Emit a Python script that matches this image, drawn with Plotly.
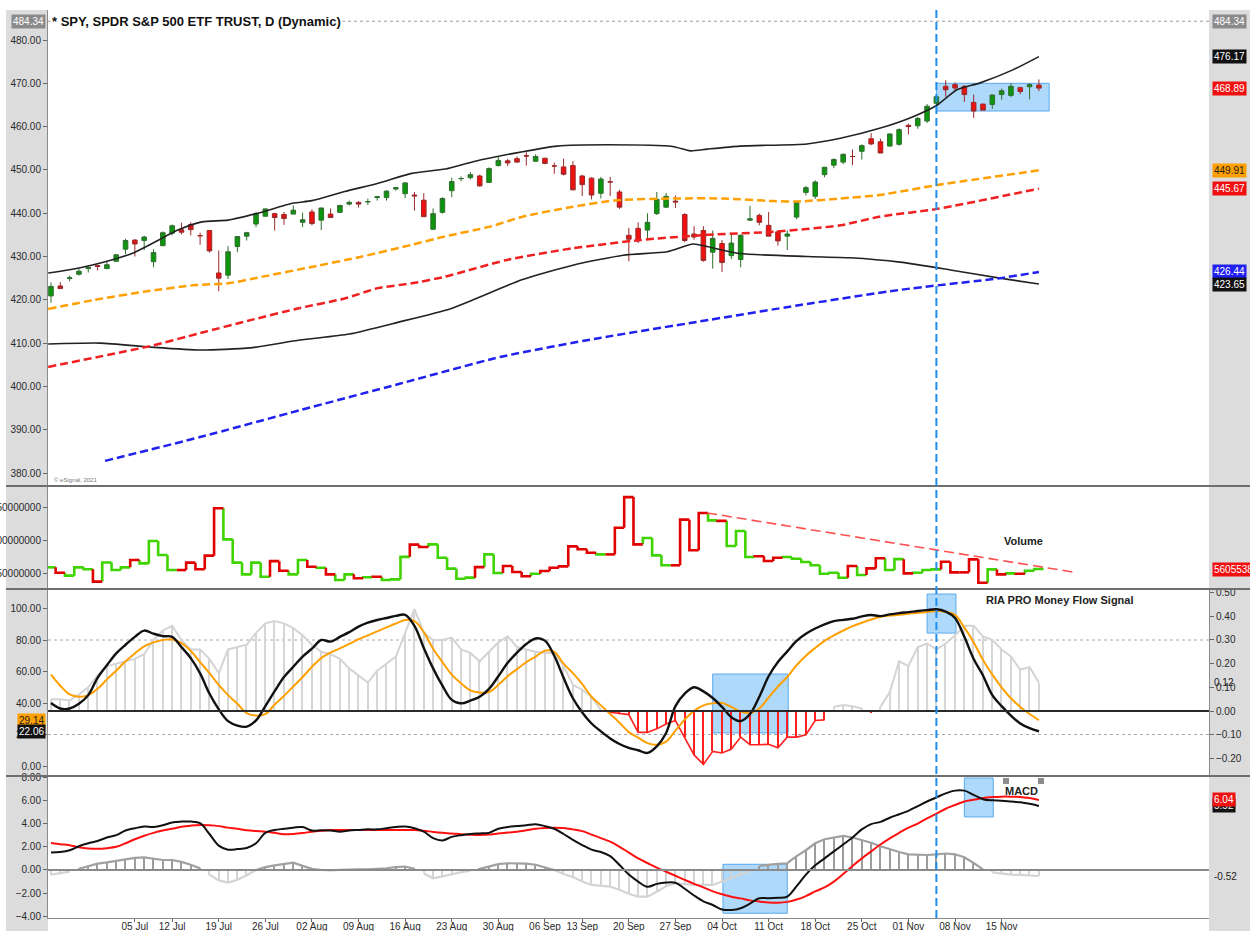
import pandas as pd
import plotly.graph_objects as go
from plotly.subplots import make_subplots

# ---------------- DATA ----------------
holidays = ["2021-07-05", "2021-09-06"]
dates = [d for d in pd.bdate_range("2021-06-22", "2021-11-19") if d.strftime("%Y-%m-%d") not in holidays]

open_ = [420.9,423.2,424.9,425.9,427.2,427.9,427.2,428.9,431.7,433.8,
         433.7,428.8,432.5,435.4,436.2,437.4,434.8,436.0,426.2,425.7,
         432.3,434.7,437.5,439.3,439.9,439.7,439.8,437.9,440.3,438.4,
         439.8,440.2,442.1,442.5,442.6,443.6,443.6,445.6,444.5,444.2,
         443.0,436.3,440.2,445.2,448.0,448.2,448.6,447.1,451.0,452.1,
         452.6,453.3,452.0,452.7,450.9,450.7,451.0,448.6,448.1,444.6,
         447.3,444.9,434.9,436.5,436.1,439.9,441.4,442.8,439.7,435.2,
         436.0,431.0,433.0,430.2,429.3,438.4,439.5,437.2,435.7,434.7,
         439.1,444.8,443.9,448.9,451.1,451.8,453.1,454.3,457.2,456.5,
         455.5,455.9,460.3,460.2,461.3,465.4,469.3,469.7,469.3,465.6,
         465.2,465.1,467.4,467.2,469.0,469.2,469.6]
high = [424.0,424.1,425.6,427.1,427.7,428.1,428.8,430.6,434.1,434.0,
        434.8,431.7,435.8,437.4,437.8,437.9,435.5,436.1,431.4,432.4,
        434.7,435.7,440.3,441.0,440.1,440.3,441.8,440.1,440.9,441.3,
        441.1,441.9,442.9,442.8,443.4,444.0,445.3,446.0,447.1,444.9,
        444.6,441.1,443.7,448.2,448.5,449.5,448.9,450.6,453.1,452.5,
        453.1,454.1,453.6,452.8,451.7,452.6,452.0,448.9,448.3,448.4,
        448.4,445.4,436.6,437.9,440.0,444.9,444.7,444.1,440.0,437.0,
        437.0,436.0,433.8,435.5,435.1,441.7,439.9,440.3,436.1,436.0,
        442.7,446.3,447.6,450.7,452.7,453.8,454.7,455.9,458.5,457.2,
        458.4,459.6,460.7,462.2,465.2,467.0,470.7,470.2,469.6,467.4,
        465.3,467.4,468.8,470.0,469.2,470.0,470.9]
low = [419.3,422.5,424.3,425.6,426.3,426.8,427.2,428.8,430.5,430.0,
       431.5,427.5,432.4,434.9,435.1,434.9,432.7,430.9,422.0,424.8,
       431.0,433.7,436.8,439.3,436.0,437.3,439.8,436.8,437.2,436.1,
       438.9,440.1,441.8,441.3,441.9,442.9,442.9,445.2,443.5,440.6,
       439.2,436.1,439.9,443.7,447.4,447.8,446.2,447.1,450.8,450.9,
       451.7,451.0,451.9,451.3,449.1,448.7,445.3,444.0,443.2,443.4,
       444.0,441.0,428.9,433.1,433.8,439.6,441.2,441.2,433.3,433.9,
       428.8,427.2,426.4,429.4,427.5,438.2,437.2,434.7,432.5,431.5,
       438.6,444.1,443.3,448.3,450.4,451.3,451.1,452.4,455.7,453.9,
       455.4,455.6,458.2,459.5,460.8,465.0,466.9,468.2,465.7,462.0,
       463.8,464.1,466.2,466.8,467.5,466.3,468.2]
close = [423.1,422.6,425.1,426.6,427.5,427.7,428.1,430.4,433.7,432.9,
         434.5,430.9,435.5,437.1,435.6,436.2,434.8,431.3,425.0,431.1,
         434.6,435.5,439.9,441.0,439.0,438.8,440.7,438.5,437.6,441.2,
         439.0,441.8,442.5,442.1,442.7,443.8,445.1,445.9,447.0,444.0,
         439.2,439.9,443.4,447.3,448.0,448.9,446.3,450.3,452.2,451.6,
         451.8,453.2,453.1,451.5,450.9,449.0,445.4,446.6,444.2,447.9,
         447.2,441.4,434.0,433.6,437.9,443.2,443.9,442.6,433.7,434.5,
         429.1,434.2,428.6,433.1,434.9,438.7,437.9,434.7,433.6,435.2,
         442.5,445.9,447.2,450.6,452.4,453.6,453.1,455.6,456.0,453.9,
         458.3,459.3,460.0,461.9,464.7,466.9,468.5,468.9,467.4,463.6,
         463.8,467.3,468.3,469.3,468.1,469.7,468.89]

# overlay lines (trading-day index, value)
bb_upper_x = [-0.3,2.9,6.5,8.7,11.2,13.6,16.2,19,22.2,25.9,28,31.5,35.1,38.7,42.3,45.3,50.6,54.3,59.7,66.7,68.6,70.4,73.9,81.1,84.7,88.9,92.5,95.1,97.2,99.7,103.2,106]
bb_upper = [426.2,427.3,429.2,430.7,433.4,436.1,438.0,438.4,440.0,442.3,442.9,445.0,446.9,449.2,450.2,451.9,454.2,455.5,455.8,455.4,454.4,454.8,455.5,456.0,457.3,459.6,462.3,465.0,468.5,470.1,473.1,476.17]
bb_lower_x = [-0.3,5.3,10.6,16,21.4,26.7,32,37.4,42.8,45.3,50.6,56,61.4,66.1,68.9,70.4,73.9,81.1,85.7,91.1,96.5,101.8,106]
bb_lower = [409.8,410.0,409.1,408.4,408.9,410.7,412.1,414.9,417.9,420.0,424.7,428.0,430.3,431.1,432.9,432.3,430.7,430.0,429.7,428.7,426.9,425.0,423.65]
ma50_x = [-0.3,4.7,10.1,15.5,19,22.6,28,33.4,38.7,42.2,47.1,50.6,56,60.7,66.7,72.1,77.5,80.1,84.7,88.9,95.1,106]
ma50 = [417.9,420.0,421.9,423.4,423.8,425.3,427.6,430.0,432.7,434.6,436.9,439.2,441.5,443.0,443.4,443.4,442.8,442.7,443.4,444.2,446.5,449.91]
ma100_x = [-0.3,10.6,16,21.4,26.7,31.5,35.1,38.7,42.2,48.9,56,63.2,70.4,77.5,84.7,88.9,95.1,106]
ma100 = [404.5,409.3,412.3,415.3,418.1,420.3,422.7,423.8,425.3,429.2,431.9,433.8,435.0,435.7,437.2,439.2,441.0,445.67]
ma200_x = [5.8,16,26.7,37.4,48.2,58.9,69.6,80.4,91.1,101.8,106]
ma200 = [382.8,388.3,394.5,400.6,406.8,411.2,415.0,418.8,422.3,425.0,426.44]
top_price = 484.34

# volume (millions) and up/down flag
volume_m = [58.6,50.5,46,58.6,55.6,37,66,54.5,58.6,69.7,
            64.6,98.5,77.3,54.5,54.5,65.7,55.6,76.3,148,101,
            65.7,48,65.7,44.4,68,53.5,48,69.7,59.6,58,
            48,39.4,48,42,43.5,44.4,39.4,40.4,74.5,93,
            89.4,93.4,73.2,56.6,41.4,43,59,78.2,50,60.6,
            51.5,45,49,53,58,60,90.4,86,80.8,78.2,
            78.2,118.6,165,93.4,103,76.8,61.7,61.7,130.8,84.4,
            141,129.8,129,91,113.6,74.2,75.5,68.2,73.2,74.2,
            71.7,66.7,61.7,49,50.5,42.9,60.6,47,57,72.3,
            54.5,71,49.5,50.5,54.5,55.5,67,51,51,70.7,
            35.3,55.5,48,49.5,48.8,53.5,56.055388]
vol_up = [1,0,1,1,1,0,1,1,1,0,
          1,1,1,1,0,0,0,0,0,1,
          1,1,1,1,0,0,1,1,0,1,
          0,1,1,0,1,0,1,1,1,0,
          0,1,1,1,1,1,0,1,1,0,
          0,0,1,0,0,0,0,0,0,1,
          0,0,0,0,1,1,1,0,0,0,
          0,1,0,1,1,1,0,0,0,1,
          1,1,1,1,1,1,0,1,0,0,
          1,1,0,1,1,1,0,0,0,0,
          0,1,0,1,0,1,1]
vol_trend_x = [70.4, 110.1]
vol_trend_m = [141.0, 50.5]

# RIA PRO money flow signal
mf_line = [40,36.5,36.5,39.5,45,56,64,71.5,77,82,
           86,84,82.5,82,75.5,68.5,58.8,46,36,28.5,
           25.7,25,29,38,47.5,56.5,63,69.5,74.5,80,
           79,82,85,88.5,91,92.7,94,95.3,96,89,
           75,62,51,42,39.8,41.5,44,49,57,65.5,
           72,77.5,81,79.6,70,56,43,34,27,22,
           17.5,14,11.5,10,8.3,12.5,21,38,46,50,
           47.4,43.2,37.5,31,28.5,33,44,57,66,72.8,
           79.5,84,87.3,90,92,92.8,93.5,95,95.9,95.2,
           96.3,97.1,97.7,98.4,99,99.5,98,94,82,68,
           57.5,45,38,32,27,24,22.06]
mf_signal = [58,51,45.5,44,45,49,55,60.5,66.5,71.5,
             76,78.5,80,80.4,78,73,66,59,51.5,45,
             39.5,33.5,32,33,39,44.5,50.5,56.5,63,68.5,
             72,74.7,77.5,80.5,83,85.5,88,90.5,92.7,92,
             85,74.5,66,58,52.5,48,46.6,47,51.5,57,
             61.5,66,69.5,73.2,72.5,65,59,52,44,38.5,
             33,27.5,21.5,18,14.5,13.5,15.5,22.5,29.5,35,
             38.5,39.8,40,37.5,34.5,33.5,36.5,43.5,50.5,56.5,
             64,70,75,79.5,83,86,88.8,91,93,94.8,
             95.5,96,96.6,97.3,97.8,98.5,98,96,88,78.5,
             67.3,58,50,43,37.5,33,29.14]
mf_hist = [0.05,0.05,0.045,0.07,0.10,0.15,0.19,0.20,0.21,0.22,
           0.24,0.30,0.34,0.36,0.30,0.26,0.26,0.22,0.16,0.26,
           0.27,0.28,0.33,0.37,0.38,0.37,0.35,0.32,0.28,0.25,
           0.24,0.22,0.18,0.15,0.12,0.17,0.20,0.23,0.33,0.43,
           0.33,0.30,0.30,0.31,0.26,0.245,0.21,0.25,0.29,0.315,
           0.27,0.26,0.25,0.245,0.245,0.19,0.11,0.09,0.06,0.005,
           -0.005,-0.01,-0.015,-0.09,-0.09,-0.075,-0.055,-0.04,-0.11,-0.185,
           -0.225,-0.17,-0.177,-0.16,-0.11,-0.142,-0.142,-0.14,-0.155,-0.11,
           -0.11,-0.10,-0.04,-0.037,0.018,0.025,0.02,0.011,-0.004,0.018,
           0.08,0.21,0.19,0.27,0.285,0.26,0.285,0.32,0.36,0.36,
           0.315,0.30,0.26,0.23,0.175,0.185,0.12]

# MACD
macd_line = [1.5,1.55,1.7,2.05,2.3,2.5,2.8,3.0,3.4,3.6,
             3.74,3.7,3.85,4.1,4.17,4.17,4.03,3.1,2.1,1.75,
             1.8,1.9,2.3,3.2,3.45,3.55,3.65,3.7,3.4,3.42,
             3.4,3.3,3.4,3.45,3.5,3.5,3.6,3.7,3.75,3.6,
             3.3,2.75,2.55,2.85,3.0,3.1,3.15,3.2,3.55,3.7,
             3.78,3.85,3.94,3.78,3.55,3.1,2.6,2.15,1.75,1.55,
             1.2,0.43,-0.4,-1.0,-1.45,-1.2,-1.08,-1.1,-1.62,-2.2,
             -2.7,-3.02,-3.4,-3.45,-3.3,-2.9,-2.44,-2.44,-2.4,-2.3,
             -1.4,-0.4,0.4,1.0,1.6,2.2,2.8,3.5,3.95,4.15,
             4.5,4.8,5.1,5.5,5.9,6.25,6.6,6.84,6.84,6.47,
             6.1,6.0,5.97,5.9,5.83,5.7,5.52]
macd_signal = [2.32,2.22,2.13,1.95,1.85,1.82,1.88,2.0,2.3,2.65,
               2.95,3.2,3.4,3.55,3.72,3.82,3.88,3.85,3.78,3.65,
               3.55,3.42,3.35,3.3,3.2,3.08,3.1,3.18,3.3,3.38,
               3.44,3.45,3.45,3.45,3.45,3.45,3.45,3.45,3.45,3.45,
               3.38,3.28,3.2,3.15,3.08,3.04,3.02,3.05,3.15,3.22,
               3.3,3.42,3.55,3.62,3.65,3.62,3.5,3.35,3.05,2.75,
               2.44,2.0,1.5,1.0,0.6,0.2,-0.15,-0.5,-0.85,-1.2,
               -1.5,-1.85,-2.1,-2.3,-2.45,-2.62,-2.72,-2.8,-2.82,-2.75,
               -2.55,-2.25,-1.85,-1.5,-1.0,-0.35,0.35,1.0,1.6,2.2,
               2.73,3.2,3.65,4.0,4.45,4.85,5.28,5.6,5.9,6.05,
               6.2,6.28,6.32,6.32,6.3,6.2,6.04]
macd_hist = [-0.4,-0.3,-0.15,0.1,0.35,0.55,0.65,0.8,0.95,1.05,
             1.09,0.95,0.86,0.86,0.7,0.45,0.14,-0.4,-0.9,-1.09,
             -0.85,-0.45,0.0,0.25,0.4,0.5,0.63,0.35,0.1,0.0,
             -0.05,0.0,0.05,0.06,0.06,0.1,0.15,0.25,0.3,0.1,
             -0.3,-0.72,-0.55,-0.35,-0.2,-0.05,0.1,0.3,0.5,0.58,
             0.58,0.55,0.45,0.25,0.0,-0.35,-0.6,-1.0,-1.29,-1.35,
             -1.44,-1.7,-2.05,-2.3,-2.3,-1.87,-1.4,-1.15,-1.22,-1.29,
             -1.29,-1.29,-1.0,-0.7,-0.45,-0.1,0.35,0.45,0.52,0.58,
             1.2,1.7,2.3,2.65,2.8,2.93,2.8,2.6,2.35,2.05,
             1.78,1.55,1.35,1.29,1.29,1.35,1.42,1.35,1.1,0.6,
             0.05,-0.2,-0.3,-0.4,-0.43,-0.45,-0.52]

# annotation boxes: (x0, x1, y0, y1) in axis units
price_box = (95.0, 107.1, 463.6, 470.0)
mf_box_1 = (94.0, 97.1, 84.4, 109.2)
mf_box_2 = (71.0, 79.1, 21.0, 58.4)
macd_box_1 = (72.1, 79.0, -3.73, 0.49)
macd_box_2 = (98.0, 101.1, 4.57, 7.93)
marker_day = "2021-11-04"

week_labels = ["05 Jul","12 Jul","19 Jul","26 Jul","02 Aug","09 Aug","16 Aug","23 Aug","30 Aug",
               "06 Sep","13 Sep","20 Sep","27 Sep","04 Oct","11 Oct","18 Oct","25 Oct","01 Nov",
               "08 Nov","15 Nov"]

# ---------------- FIGURE ----------------
n = len(dates)
xi = list(range(n))
week_starts = pd.date_range("2021-07-05", periods=len(week_labels), freq="7D")
tickvals = [next(i for i, d in enumerate(dates) if d >= ws) for ws in week_starts]
marker_x = next(i for i, d in enumerate(dates) if d.strftime("%Y-%m-%d") == marker_day)

W_PX, H_PX = 1161, 908
def px_x(p):
    return (p - 48) / W_PX
def px_y(p):
    return (918 - p) / H_PX

fig = make_subplots(rows=4, cols=1, shared_xaxes=True, vertical_spacing=0,
                    row_heights=[476, 103, 187, 142],
                    specs=[[{"secondary_y": True}]] * 4)

# price
fig.add_trace(go.Candlestick(x=xi, open=open_, high=high, low=low, close=close,
                             increasing=dict(fillcolor="#0c960c", line=dict(color="#2f6f2f", width=1)),
                             decreasing=dict(fillcolor="#f01010", line=dict(color="#9a2a2a", width=1)),
                             whiskerwidth=0, hoverinfo="skip"), row=1, col=1)
fig.add_trace(go.Scatter(x=bb_upper_x, y=bb_upper, mode="lines", line=dict(color="#222", width=1.6, shape="spline", smoothing=0.6)), row=1, col=1)
fig.add_trace(go.Scatter(x=bb_lower_x, y=bb_lower, mode="lines", line=dict(color="#222", width=1.6, shape="spline", smoothing=0.6)), row=1, col=1)
fig.add_trace(go.Scatter(x=ma50_x, y=ma50, mode="lines", line=dict(color="#ffa000", width=2.5, dash="8px,4px", shape="spline", smoothing=0.6)), row=1, col=1)
fig.add_trace(go.Scatter(x=ma100_x, y=ma100, mode="lines", line=dict(color="#f02020", width=2.5, dash="8px,4px", shape="spline", smoothing=0.6)), row=1, col=1)
fig.add_trace(go.Scatter(x=ma200_x, y=ma200, mode="lines", line=dict(color="#2020f0", width=2.5, dash="8px,4px", shape="spline", smoothing=0.6)), row=1, col=1)

# volume step line
vols = [v * 1e6 for v in volume_m]
seg = {1: ([], []), 0: ([], [])}
for i in xi:
    prev = vols[i - 1] if i > 0 else vols[i]
    xs, ys = seg[vol_up[i]]
    xs += [i - 0.5, i - 0.5, i + 0.5, None]
    ys += [prev, vols[i], vols[i], None]
fig.add_trace(go.Scatter(x=seg[1][0], y=seg[1][1], mode="lines", line=dict(color="#3fd400", width=2.6)), row=2, col=1)
fig.add_trace(go.Scatter(x=seg[0][0], y=seg[0][1], mode="lines", line=dict(color="#e00000", width=2.6)), row=2, col=1)
fig.add_trace(go.Scatter(x=vol_trend_x, y=[v * 1e6 for v in vol_trend_m], mode="lines",
                         line=dict(color="#ff5050", width=1.6, dash="10px,5px")), row=2, col=1)

# money flow: histogram on primary (placed right), lines on secondary (placed left)
mf_cols = ["#d6d6d6" if v >= 0 else "#ff2020" for v in mf_hist]
fig.add_trace(go.Bar(x=xi, y=mf_hist, width=0.16, marker=dict(color=mf_cols, line=dict(width=0))), row=3, col=1, secondary_y=False)
fig.add_trace(go.Scatter(x=xi, y=[v if v >= 0 else None for v in mf_hist], mode="lines",
                         line=dict(color="#d4d4d4", width=2)), row=3, col=1, secondary_y=False)
fig.add_trace(go.Scatter(x=xi, y=[v if v <= 0 else None for v in mf_hist], mode="lines",
                         line=dict(color="#ff2020", width=1.6)), row=3, col=1, secondary_y=False)
fig.add_trace(go.Scatter(x=xi, y=mf_signal, mode="lines", line=dict(color="#ffa000", width=2, shape="spline")), row=3, col=1, secondary_y=True)
fig.add_trace(go.Scatter(x=xi, y=mf_line, mode="lines", line=dict(color="#111", width=2.4, shape="spline")), row=3, col=1, secondary_y=True)

# MACD
mh_cols = ["#9c9c9c" if v >= 0 else "#d4d4d4" for v in macd_hist]
fig.add_trace(go.Bar(x=xi, y=macd_hist, width=0.16, marker=dict(color=mh_cols, line=dict(width=0))), row=4, col=1)
fig.add_trace(go.Scatter(x=xi, y=[v if v >= 0 else None for v in macd_hist], mode="lines",
                         line=dict(color="#a0a0a0", width=2.2)), row=4, col=1)
fig.add_trace(go.Scatter(x=xi, y=[v if v <= 0 else None for v in macd_hist], mode="lines",
                         line=dict(color="#d4d4d4", width=2.2)), row=4, col=1)
fig.add_trace(go.Scatter(x=xi, y=macd_signal, mode="lines", line=dict(color="#ff1010", width=2, shape="spline")), row=4, col=1)
fig.add_trace(go.Scatter(x=xi, y=macd_line, mode="lines", line=dict(color="#111", width=2, shape="spline")), row=4, col=1)

# ---------------- AXES ----------------
tickfont = dict(family="Liberation Sans, Arial", size=10, color="#2a2a2a")
ax_common = dict(showgrid=False, zeroline=False, ticks="outside", ticklen=4, tickcolor="#666",
                 tickfont=tickfont, showline=True, linecolor="#8a8a8a", linewidth=1, automargin=False)

price_ticks = list(range(380, 481, 10))
fig.update_layout(
    yaxis=dict(range=[377.0, 486.93], tickvals=price_ticks, tickformat=".2f", side="left", **ax_common),
    yaxis2=dict(range=[377.0, 486.93], tickvals=price_ticks, tickformat=".2f", side="right", overlaying="y", **ax_common),
    yaxis3=dict(range=[25.8e6, 181.8e6], tickvals=[50e6, 100e6, 150e6], tickformat="d", side="left", **ax_common),
    yaxis4=dict(range=[25.8e6, 181.8e6], tickvals=[50e6, 100e6, 150e6], tickformat="d", side="right", overlaying="y3", **ax_common),
    yaxis5=dict(range=[-0.274, 0.515], tickvals=[-0.2, -0.1, 0, 0.1, 0.2, 0.3, 0.4, 0.5], tickformat=".2f", side="right", **ax_common),
    yaxis6=dict(range=[-6.35, 112.4], tickvals=[0, 20, 40, 60, 80, 100], tickformat=".2f", side="left", overlaying="y5", **ax_common),
    yaxis7=dict(range=[-4.14, 8.1], tickvals=[-4, -2, 0, 2, 4, 6, 8], tickformat=".2f", side="left", **ax_common),
    yaxis8=dict(range=[-4.14, 8.1], tickvals=[-4, -2, 0, 2, 4, 6, 8], tickformat=".2f", side="right", overlaying="y7", **ax_common),
)
for k in ["xaxis", "xaxis2", "xaxis3", "xaxis4"]:
    fig.layout[k].update(domain=[0, 1], range=[-0.32, 124.25], showgrid=False, zeroline=False,
                         rangeslider=dict(visible=False), showticklabels=False, ticks="", showline=False,
                         automargin=False)
fig.layout.xaxis4.update(showticklabels=True, tickvals=tickvals, ticktext=week_labels, ticks="outside",
                         ticklen=3, tickcolor="#666", ticklabelstandoff=-4,
                         tickfont=dict(family="Liberation Sans, Arial", size=10, color="#2a2a2a"),
                         showline=True, linecolor="#8a8a8a")

# ---------------- SHAPES ----------------
shapes = []
band = "#dcdcdc"
shapes.append(dict(type="rect", xref="paper", yref="paper", x0=px_x(6), x1=0, y0=px_y(931), y1=px_y(10),
                   fillcolor=band, line=dict(width=0), layer="below"))
shapes.append(dict(type="rect", xref="paper", yref="paper", x0=1, x1=px_x(1250), y0=px_y(931), y1=px_y(10),
                   fillcolor=band, line=dict(width=0), layer="below"))
for py in [486, 589, 776]:
    shapes.append(dict(type="line", xref="paper", yref="paper", x0=px_x(6), x1=px_x(1250), y0=px_y(py), y1=px_y(py),
                       line=dict(color="#6e6e6e", width=2)))
shapes.append(dict(type="line", xref="paper", yref="y", x0=0, x1=1, y0=top_price, y1=top_price,
                   line=dict(color="#9a9a9a", width=1, dash="dot")))
for lv in [80, 20]:
    shapes.append(dict(type="line", xref="paper", yref="y6", x0=0, x1=1, y0=lv, y1=lv,
                       line=dict(color="#a8a8a8", width=1, dash="dot"), layer="below"))
shapes.append(dict(type="line", xref="paper", yref="y5", x0=0, x1=1, y0=0, y1=0, line=dict(color="#2a2a2a", width=2)))
shapes.append(dict(type="line", xref="paper", yref="y7", x0=0, x1=1, y0=0, y1=0, line=dict(color="#8a8a8a", width=2)))

box_style = dict(fillcolor="rgba(110,185,245,0.55)", line=dict(color="#5aa9ee", width=1), layer="below")
for (bx, yr) in [(price_box, "y"), (mf_box_1, "y6"), (mf_box_2, "y6"), (macd_box_1, "y7"), (macd_box_2, "y7")]:
    shapes.append(dict(type="rect", xref="x", yref=yr, x0=bx[0], x1=bx[1], y0=bx[2], y1=bx[3], **box_style))
shapes.append(dict(type="line", xref="x", yref="paper", x0=marker_x, x1=marker_x, y0=0, y1=1,
                   line=dict(color="#1e8ff0", width=2, dash="8px,4px")))
for sx in [1003, 1038]:
    shapes.append(dict(type="rect", xref="paper", yref="paper", x0=px_x(sx), x1=px_x(sx + 6), y0=px_y(784), y1=px_y(778),
                       fillcolor="#8c8c8c", line=dict(width=0)))
fig.update_layout(shapes=shapes)

# ---------------- ANNOTATIONS ----------------
ann = []
def tag(val, yref, text, bg, fg="white", side="right"):
    ann.append(dict(xref="paper", yref=yref, x=1 if side == "right" else 0, y=val, text=text,
                    xanchor="left" if side == "right" else "right", yanchor="middle",
                    xshift=3 if side == "right" else -2, showarrow=False, bgcolor=bg, borderpad=1,
                    font=dict(family="Liberation Sans, Arial", size=10, color=fg)))

tag(top_price, "y", f"{top_price:.2f}", "#8a8a8a")
tag(top_price, "y", f"{top_price:.2f}", "#8a8a8a", side="left")
tag(bb_upper[-1], "y", f"{bb_upper[-1]:.2f}", "#111")
tag(close[-1], "y", f"{close[-1]:.2f}", "#f01010")
tag(ma50[-1], "y", f"{ma50[-1]:.2f}", "#ffa000", fg="#222")
tag(ma100[-1], "y", f"{ma100[-1]:.2f}", "#f01010")
tag(ma200[-1], "y", f"{ma200[-1]:.2f}", "#2020f0")
tag(bb_lower[-1], "y", f"{bb_lower[-1]:.2f}", "#111")
tag(vols[-1], "y3", f"{int(round(vols[-1]))}", "#f01010")
tag(mf_hist[-1], "y5", f"{mf_hist[-1]:.2f}", "rgba(0,0,0,0)", fg="#222")
tag(mf_signal[-1], "y6", f"{mf_signal[-1]:.2f}", "#ffa000", fg="#222", side="left")
tag(mf_line[-1], "y6", f"{mf_line[-1]:.2f}", "#111", side="left")
tag(macd_line[-1], "y7", f"{macd_line[-1]:.2f}", "#111")
tag(macd_signal[-1], "y7", f"{macd_signal[-1]:.2f}", "#f01010")
tag(macd_hist[-1], "y7", f"{macd_hist[-1]:.2f}", "rgba(0,0,0,0)", fg="#222")

ann.append(dict(xref="paper", yref="y", x=px_x(50), y=top_price, xanchor="left", yanchor="middle",
                text="* SPY, SPDR S&P 500 ETF TRUST, D (Dynamic)", showarrow=False, bgcolor="white",
                font=dict(family="Liberation Sans, Arial", size=13, color="#111", weight="bold")))
ann.append(dict(xref="paper", yref="paper", x=px_x(1023), y=px_y(541), xanchor="center", yanchor="middle",
                text="Volume", showarrow=False,
                font=dict(family="Liberation Sans, Arial", size=11, color="#222", weight="bold")))
ann.append(dict(xref="paper", yref="paper", x=px_x(1060), y=px_y(600), xanchor="center", yanchor="middle",
                text="RIA PRO Money Flow Signal", showarrow=False,
                font=dict(family="Liberation Sans, Arial", size=11, color="#222", weight="bold")))
ann.append(dict(xref="paper", yref="paper", x=px_x(1022), y=px_y(791), xanchor="center", yanchor="middle",
                text="MACD", showarrow=False,
                font=dict(family="Liberation Sans, Arial", size=11, color="#222", weight="bold")))
ann.append(dict(xref="paper", yref="paper", x=px_x(52), y=px_y(480), xanchor="left", text="© eSignal, 2021",
                showarrow=False, font=dict(family="Liberation Sans, Arial", size=6, color="#777")))
fig.update_layout(annotations=ann)

fig.update_layout(width=1250, height=931, showlegend=False, template="none",
                  margin=dict(l=48, r=41, t=10, b=13),
                  paper_bgcolor="white", plot_bgcolor="white", bargap=0)

fig.write_html("out.html", config={"displayModeBar": False},
               post_script="document.body.style.margin='0';document.body.style.overflow='hidden';")
